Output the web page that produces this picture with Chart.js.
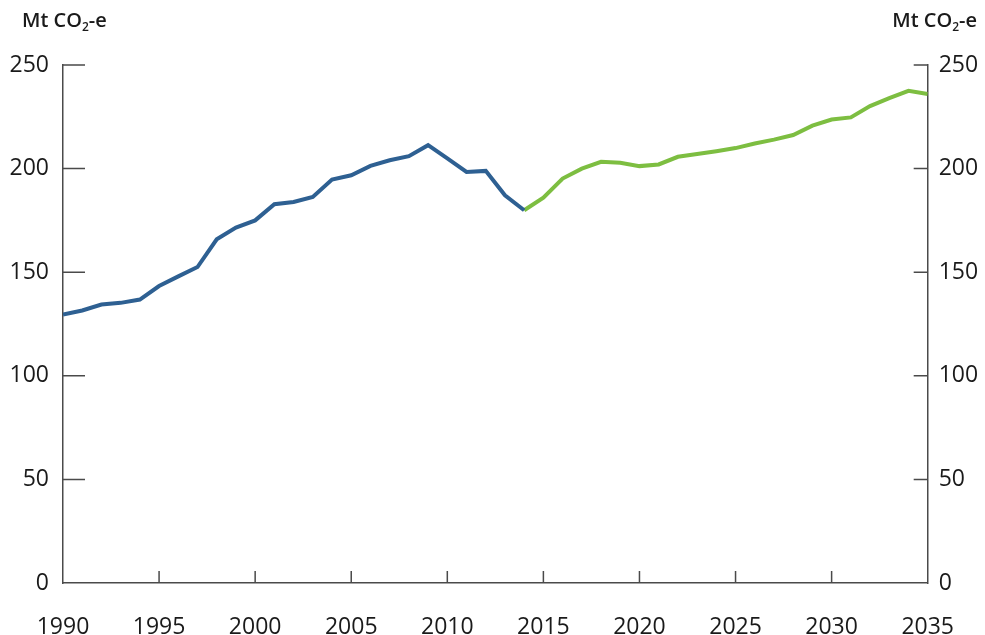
<!DOCTYPE html>
<html lang="en">
<head>
    <meta charset="UTF-8">
    <title>Emissions - Mt CO2-e</title>
    <script src="https://cdn.jsdelivr.net/npm/chart.js"></script>
    <style>
        body {
            margin: 0;
            background: #fff;
            font-family: "Open Sans", sans-serif;
        }

        #wrap {
            position: relative;
            width: 985px;
            height: 635px;
        }

        .unit {
            position: absolute;
            top: 10px;
            font-size: 20px;
            font-weight: 600;
            line-height: 20px;
            color: #1a1a1a;
            white-space: nowrap;
        }

        .unit sub {
            font-size: 12px;
            vertical-align: -4px;
            line-height: 0;
        }
    </style>
</head>
<body>
    <div id="wrap">
        <canvas id="emChart"></canvas>
        <div class="unit" style="left: 22px;">Mt CO<sub>2</sub>-e</div>
        <div class="unit" style="right: 8px;">Mt CO<sub>2</sub>-e</div>
    </div>

    <script>
        // Historical emissions, 1990-2014
        const histYears = [1990, 1991, 1992, 1993, 1994, 1995, 1996, 1997, 1998, 1999,
            2000, 2001, 2002, 2003, 2004, 2005, 2006, 2007, 2008, 2009,
            2010, 2011, 2012, 2013, 2014];
        const histValues = [129.6, 131.5, 134.4, 135.2, 136.8, 143.3, 148.0, 152.5, 165.9, 171.5,
            175.0, 182.8, 183.9, 186.3, 194.7, 196.8, 201.3, 204.0, 206.0, 211.3,
            204.9, 198.4, 198.9, 187.1, 179.9];

        // Projected emissions, 2014-2035
        const projYears = [2014, 2015, 2016, 2017, 2018, 2019, 2020, 2021, 2022, 2023, 2024,
            2025, 2026, 2027, 2028, 2029, 2030, 2031, 2032, 2033, 2034, 2035];
        const projValues = [179.9, 186.0, 195.2, 200.0, 203.3, 202.8, 201.2, 202.0, 205.7, 207.0, 208.4,
            209.9, 212.1, 214.0, 216.2, 220.7, 223.7, 224.7, 230.2, 234.0, 237.5, 236.0];

        const xTicks = [1990, 1995, 2000, 2005, 2010, 2015, 2020, 2025, 2030, 2035];
        const yTicks = [0, 50, 100, 150, 200, 250];

        const axisColor = '#4a4a4a';
        const tickFont = { family: 'Open Sans', size: 23 };

        const toPoints = (xs, ys) => xs.map((x, i) => ({ x: x, y: ys[i] }));

        // Tick marks point into the plot area, so draw them here
        const innerTicks = {
            id: 'innerTicks',
            afterDraw(chart) {
                const { ctx, chartArea, scales } = chart;
                ctx.save();
                ctx.strokeStyle = axisColor;
                ctx.lineWidth = 1.5;
                ctx.beginPath();
                yTicks.slice(1).forEach(v => {
                    const py = scales.y.getPixelForValue(v);
                    ctx.moveTo(chartArea.left, py);
                    ctx.lineTo(chartArea.left + 22, py);
                    ctx.moveTo(chartArea.right, py);
                    ctx.lineTo(chartArea.right - 14, py);
                });
                xTicks.slice(1, -1).forEach(v => {
                    const px = scales.x.getPixelForValue(v);
                    ctx.moveTo(px, chartArea.bottom);
                    ctx.lineTo(px, chartArea.bottom - 12);
                });
                ctx.stroke();
                ctx.restore();
            }
        };

        const ctx = document.getElementById('emChart').getContext('2d');
        const emChart = new Chart(ctx, {
            type: 'line',
            data: {
                datasets: [
                    {
                        label: 'Historical',
                        data: toPoints(histYears, histValues),
                        borderColor: '#2e6092',
                        borderWidth: 4,
                        pointRadius: 0,
                        fill: false,
                        tension: 0
                    },
                    {
                        label: 'Projection',
                        data: toPoints(projYears, projValues),
                        borderColor: '#7dbe41',
                        borderWidth: 4,
                        pointRadius: 0,
                        fill: false,
                        tension: 0
                    }
                ]
            },
            options: {
                responsive: true,
                maintainAspectRatio: false,
                animation: false,
                layout: { padding: { top: 65 } },
                plugins: {
                    legend: { display: false },
                    tooltip: { enabled: false }
                },
                scales: {
                    x: {
                        type: 'linear',
                        min: 1990,
                        max: 2035,
                        afterFit: s => { s.height = 52; },
                        afterBuildTicks: s => { s.ticks = xTicks.map(v => ({ value: v })); },
                        grid: { display: false, drawTicks: false },
                        border: { color: axisColor, width: 1.5 },
                        ticks: {
                            color: '#1a1a1a',
                            font: tickFont,
                            padding: 31,
                            maxRotation: 0,
                            callback: v => String(v)
                        }
                    },
                    y: {
                        position: 'left',
                        min: 0,
                        max: 250,
                        afterFit: s => { s.width = 63; },
                        afterBuildTicks: s => { s.ticks = yTicks.map(v => ({ value: v })); },
                        grid: { display: false, drawTicks: false },
                        border: { color: axisColor, width: 1.5 },
                        ticks: { color: '#1a1a1a', font: tickFont, padding: 14 }
                    },
                    y2: {
                        position: 'right',
                        min: 0,
                        max: 250,
                        afterFit: s => { s.width = 52; },
                        afterBuildTicks: s => { s.ticks = yTicks.map(v => ({ value: v })); },
                        grid: { display: false, drawTicks: false },
                        border: { color: axisColor, width: 1.5 },
                        ticks: { color: '#1a1a1a', font: tickFont, padding: 11 }
                    }
                }
            },
            plugins: [innerTicks]
        });
    </script>
</body>
</html>
